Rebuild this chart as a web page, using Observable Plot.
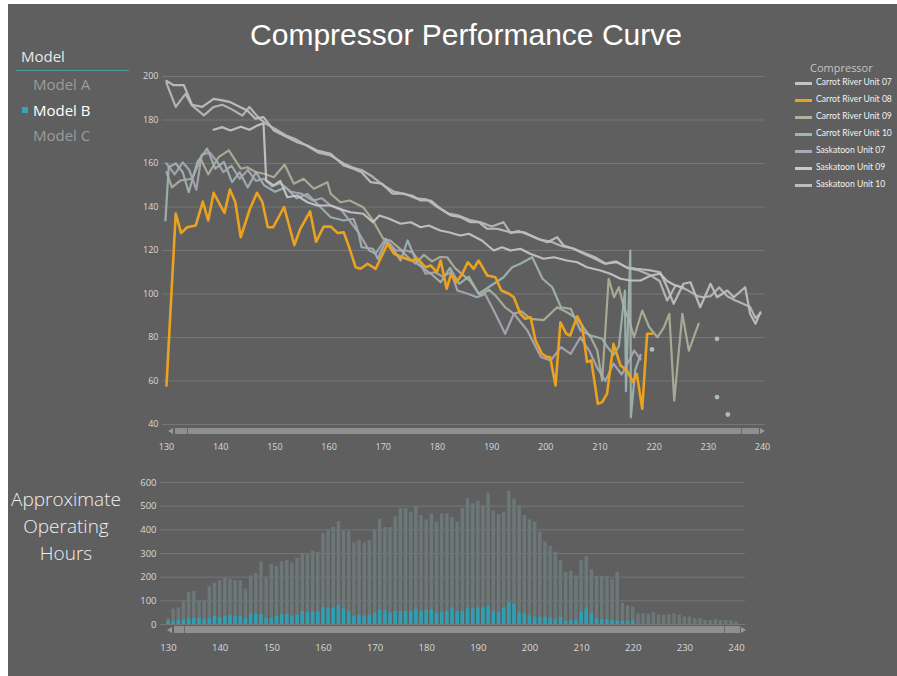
<!DOCTYPE html>
<html><head><meta charset="utf-8">
<script src="https://cdn.jsdelivr.net/npm/d3@7"></script>
<script src="https://cdn.jsdelivr.net/npm/@observablehq/plot@0.6"></script>
<style>
body{margin:0;background:#fff;font-family:"Open Sans","Segoe UI",sans-serif}
#root{position:relative;width:897px;height:676px;overflow:hidden;background:#fff}
#panel{position:absolute;left:8px;top:4px;width:889px;height:672px;background:#5f5f5f}
.abs{position:absolute;white-space:nowrap}
.tri-l{position:absolute;width:0;height:0;border-top:3px solid transparent;border-bottom:3px solid transparent;border-right:5px solid #9a9a9a}
.tri-r{position:absolute;width:0;height:0;border-top:3px solid transparent;border-bottom:3px solid transparent;border-left:5px solid #9a9a9a}
</style></head><body>
<div id="root">
<div id="panel"></div>
<div class="abs" style="left:166px;top:17px;width:600px;text-align:center;font-family:'Liberation Sans',Arial,sans-serif;font-size:30px;line-height:36px;color:#fff">Compressor Performance Curve</div>

<div class="abs" style="left:21px;top:46px;font-size:15px;line-height:20px;color:#e8e8e8">Model</div>
<div class="abs" style="left:16px;top:70px;width:113px;height:1px;background:#4e97a0"></div>
<div class="abs" style="left:33px;top:74px;font-size:15px;line-height:20px;color:#9b9b9b">Model A</div>
<div class="abs" style="left:22px;top:107px;width:6px;height:6px;background:#35a4ba"></div>
<div class="abs" style="left:33px;top:100px;font-size:15px;line-height:20px;color:#ffffff">Model B</div>
<div class="abs" style="left:33px;top:125px;font-size:15px;line-height:20px;color:#9b9b9b">Model C</div>

<div class="abs" style="left:0px;top:486px;width:132px;text-align:center;font-size:19px;line-height:27px;font-weight:300;color:#f0f0f0">Approximate<br>Operating<br>Hours</div>

<div id="legend"></div>
<div id="top" class="abs" style="left:130px;top:60px"></div>
<div id="bottom" class="abs" style="left:130px;top:470px"></div>

<!-- scrollbars -->
<div class="tri-l" style="left:168px;top:428px"></div>
<div class="abs" style="left:175px;top:428px;width:584px;height:6px;background:#8f8f8f"></div>
<div class="abs" style="left:187px;top:428px;width:1px;height:6px;background:#6a6a6a"></div>
<div class="abs" style="left:741px;top:428px;width:1px;height:6px;background:#6a6a6a"></div>
<div class="tri-r" style="left:760px;top:428px"></div>

<div class="tri-l" style="left:167px;top:627px"></div>
<div class="abs" style="left:174px;top:626px;width:566px;height:7px;background:#8f8f8f"></div>
<div class="abs" style="left:184px;top:626px;width:1px;height:7px;background:#6a6a6a"></div>
<div class="abs" style="left:724px;top:626px;width:1px;height:7px;background:#6a6a6a"></div>
<div class="tri-r" style="left:741px;top:627px"></div>
</div>
<script>
// ---------- top chart data: [x, y] pairs, null = gap ----------
const cr07 = [[130,198],[131.3,196],[133.2,196],[134.7,187],[136.6,186],[138.7,189.7],[140.3,189],[141.8,188.2],[143,186.7],[144.9,184.4],[146.4,180.6],[147.9,181.3],[149.8,175.2],[152.3,172.1],[154.1,169.8],[156,168.3],[157.8,166],[160.3,164.5],[162.7,159.1],[164.5,157.6],[166,156],[167.7,151.4],[169.8,150.7],[171.7,146.1],[173.5,146.1],[175.3,145.3],[176.9,143],[178.8,143],[180.6,139.2],[182.5,136.1],[184.3,135.3],[186.1,133],[187.6,133],[189.2,130],[191,130],[193.5,128.4],[196,128.4],[198.5,125.4],[200.3,123.8],[202.1,126.1],[203.3,122.3],[205.1,120.8],[207,118.5],[209.1,116.2],[210.9,113.9],[213.1,114.6],[214.9,112.3],[216.7,111.6],[219,111],[221.1,110],[222.4,103.1],[223.6,95.5],[225.4,104.7],[226.7,105.4],[228.5,93.9],[230.4,104.7],[231.6,98.5],[233.5,101.6],[234.7,98.5],[236.8,103.1],[237.7,90.9],[238.7,86.3],[239.6,91.6]];
const cr08 = [[130,58],[131.7,137],[132.7,128],[133.8,130.7],[135.4,131.5],[136.7,142.5],[137.7,133.8],[138.7,146.5],[140.7,137.3],[141.7,148],[142.7,142.2],[143.7,126.1],[145.4,139.2],[146.7,146.5],[147.7,142.2],[148.7,130.7],[149.7,130.7],[151.7,140],[153.6,122.5],[154.7,130],[156.5,138],[157.6,124],[159,131],[160.3,131],[161.6,128],[162.7,128.4],[163.6,122.3],[164.9,112.3],[165.8,111.6],[167.1,113.9],[168.6,111.6],[170.8,123.1],[172,118.5],[173.5,116.9],[175.1,115.4],[176.4,116.2],[177.8,112.3],[178.8,113.1],[179.9,110.1],[180.6,115.4],[181.7,102.4],[182.5,109],[183.5,105.4],[184.6,109.3],[185.6,114.6],[186.7,111.6],[187.6,115.4],[189.2,108.5],[190.7,107.7],[191.8,101.6],[193.2,100.1],[194.1,98.5],[195.3,90.9],[196.2,88.6],[197.2,89.3],[198.1,78.6],[199.3,72.5],[200.2,71],[200.8,71],[201.8,57.9],[202.7,87],[203.8,81.7],[204.5,80.9],[205.8,89.7],[206.7,85.5],[207.6,68.7],[208.4,69.4],[209.6,49.5],[210.4,50.3],[211.3,54.1],[212.5,77.1],[213.8,67.1],[215,64.8],[216.1,59.5],[216.8,63.3],[217.8,47.2],[218.7,81.7],[219.6,81.7]];
const cr09 = [[130,156],[131,149],[132.6,152.2],[134.7,153],[136.3,162.2],[137.7,155],[139.6,162.9],[141.5,166],[143.7,157.6],[144.9,158.3],[146.5,156],[148,155.3],[149.8,153.7],[151.8,159.5],[153.5,150.7],[155.3,153],[157.2,148.4],[159.7,151.4],[160.3,146.1],[162.1,142.2],[163.8,143],[166.3,139.9],[168.1,133.8],[170,125.4],[171.3,124.6],[173,121],[174.5,117],[176,114],[177.5,118],[179,115],[180.5,117],[181.8,116.9],[183.2,112],[184.6,109],[186,106],[187.9,99.3],[189.5,102],[190.7,99.3],[192.5,93.9],[194.1,90.9],[195.5,92],[197.2,88.6],[199.6,88],[202.1,93.9],[203.9,91.6],[205.8,88.6],[208.3,80.1],[209.5,74],[210.4,60.2],[211.6,107],[212.6,98.5],[213.5,103.1],[214.4,93.9],[215.4,87.8],[216.3,80.1],[217.8,92.4],[219.1,84.7],[220.6,80.1],[221.8,84.7],[222.8,90.9],[223.7,51],[225.2,90.9],[226.4,74],[228.2,86.3],null,[231.6,79.4]];
const cr10 = [[129.8,133.8],[130.4,158.3],[131.7,160],[133,156],[134.1,146.8],[135.7,160.7],[137.5,166.8],[139,157.6],[140.6,160.7],[142.1,151.4],[143.5,156],[145,149],[146.5,156],[148,150],[150,147],[152,149],[154,144],[156,146],[158,141],[160.3,135.3],[162.7,133.8],[164.5,134.6],[165.4,128.4],[166,121.5],[168.1,120.8],[169,116.2],[170.4,124],[172,120],[173.2,115.4],[174.5,124.6],[176.3,113.9],[178.8,109.3],[180.6,105.4],[182.3,112],[184,104.7],[185.8,108],[187.6,100.1],[190.4,104.7],[192.2,107.7],[193.8,112.3],[195.3,113.9],[197.5,116.9],[199.4,107],[201.2,103.1],[202.8,93.9],[204.6,93.2],[206.4,83.2],[208.3,80.9],[210.4,79.4],[211.4,75.6],[212.5,72],[213.5,76],[214.6,101.6],[214.8,55.3],[215.6,120],[215.7,43.3],[216.5,65],[217.5,72],null,[231.6,52.6]];
const sk07 = [[130,160],[131.5,155],[133,160.5],[134.2,157],[135.5,148],[136.5,164],[138,165],[139.3,161],[140.5,156],[142,159],[143.5,153],[145,157],[146.5,152],[148,153],[149.5,149.5],[151,151],[153,147],[155,146],[157,143],[158.7,144],[160.3,140.7],[162.1,139.2],[164,133],[165.5,128],[167.4,120],[168.6,118.5],[170.4,125.4],[172.3,120],[174.2,120],[175.5,119],[176.9,113.9],[177.8,109.3],[179.5,110],[181,108],[182.5,110],[183.7,101.6],[185.6,100.1],[187.3,98.5],[188.8,100],[190.4,92.4],[192.5,81.7],[194.1,90.9],[196.6,83.2],[199.1,71],[200.9,69.4],[202.8,75.6],[204.6,72.5],[206.4,80.1],[208,74],[209.5,66],[211,60],[212.5,68],[214,63],[215.5,70],[216.3,74],[217.5,70],null,[219.6,74.5],null,[233.6,44.6]];
const sk09 = [[138.7,175.5],[140.3,176.7],[141.8,175.2],[143.7,176.9],[145.3,175.5],[146.7,177.4],[147.9,178.5],[148.4,152.2],[149.8,149.9],[151,152],[152.3,144.5],[154.1,145.3],[156,142.2],[157.8,140.7],[160.3,140.7],[162,139],[164,137.6],[166.3,136.9],[168.1,133],[169.3,136.1],[171.1,134.6],[173.2,132.3],[175.1,133],[176.9,130.7],[178.4,131.5],[180.5,129.2],[182.1,128.4],[184.2,126.9],[185.8,127.7],[188.2,124.6],[190.4,120],[191.9,121.5],[193.5,120],[195.3,120.8],[197.1,118.5],[199.6,116.2],[201.5,116.9],[203.9,115.4],[205.8,114.6],[207.6,112.3],[210.1,110.8],[211.9,109.3],[213.8,107],[215.6,106.2],[217.5,106.2],[219.4,108.5],[221.1,109.3],[222.4,106],[223.8,104],[225.4,103]];
const sk10 = [[130,197],[131.7,186],[133.5,192],[134.7,186.7],[136.9,182.1],[138.7,186],[140.3,187],[142,185],[144,182],[145.3,186],[147,181],[148.5,178],[150,176],[152,173],[154,171],[156,168],[158,165],[160.3,163.7],[162.7,160],[164.5,158],[166,157],[168,154],[170,150],[172,147],[174,146],[176,144],[178,143.5],[180,140],[182,137],[184,136],[186,134],[188,133],[190,131],[192.2,133],[193.5,128],[195,129],[197,127],[199,125],[201,124],[203,122],[205,121],[207,119],[209,117],[211,114],[213,115],[215,112],[217,111],[219,109],[221,106],[222.4,97],[224,104],[226,102],[228,99],[229.1,98.5],[230.4,99],[232,103],[233.5,99],[235,97],[236,96],[237.7,94],[238.7,89],[239.6,91]];

const seriesNames = ["Carrot River Unit 07","Carrot River Unit 08","Carrot River Unit 09","Carrot River Unit 10","Saskatoon Unit 07","Saskatoon Unit 09","Saskatoon Unit 10"];
const seriesColors = ["#c3c3c3","#eaa21f","#adb29b","#a1b6b4","#a8aab7","#c9c9c9","#bcbcbc"];
const seriesData = [cr07, cr08, cr09, cr10, sk07, sk09, sk10];
const topXTicks = [130,140,150,160,170,180,190,200,210,220,230,240];
const topYTicks = [40,60,80,100,120,140,160,180,200];

// ---------- bottom chart data ----------
const hoursFirstTemp = 130;
const totalHours = [25,65,70,100,135,140,100,100,160,175, 185,195,190,185,185,150,205,215,265,200, 255,245,265,270,260,280,300,300,310,305, 385,400,410,435,395,395,345,355,345,355, 400,445,410,410,455,490,490,475,500,460, 442,467,432,467,467,453,432,489,531,510, 521,503,555,479,465,475,562,531,503,460, 442,432,390,348,330,306,270,221,225,206, 270,287,231,203,203,203,190,221,90,80, 73,45,45,45,51,40,40,40,45,40, 32,32,25,25,17,17,20,17,17,15,10];
const modelBHours = [12,12,18,20,25,25,25,20,25,35, 30,33,38,35,35,25,45,42,42,25, 25,35,42,42,35,40,55,52,55,52, 72,65,68,80,65,55,35,40,35,38, 48,60,58,48,55,55,55,55,65,55, 60,62,48,51,55,70,55,55,66,66, 70,70,77,55,51,70,94,85,48,45, 37,31,31,31,28,21,31,14,17,17, 51,66,45,23,21,21,17,14,14,14, 14,0,0,0,0,0,0,0,0,0, 0,0,0,0,0,0,0,0,0,0,0];
const bottomYTicks = [0,100,200,300,400,500,600];

// ---------- legend ----------
const legend = document.getElementById("legend");
let lh = `<div class="abs" style="left:810px;top:60px;font-size:11px;line-height:16px;color:#c4c4c4">Compressor</div>`;
seriesNames.forEach((n, i) => {
  const cy = 83 + i * 17;
  lh += `<div class="abs" style="left:795px;top:${cy - 1.5}px;width:17px;height:3px;background:${seriesColors[i]}"></div>`;
  lh += `<div class="abs" style="left:816px;top:${cy - 7}px;font-family:Lato,'Open Sans',sans-serif;font-size:8.6px;line-height:13px;color:#f2f2f2">${n}</div>`;
});
legend.innerHTML = lh;

// ---------- top chart ----------
const rows = [];
const dots = [];
seriesData.forEach((arr, s) => {
  arr.forEach((p, i) => {
    rows.push({s: seriesNames[s], x: p ? p[0] : NaN, y: p ? p[1] : NaN});
    if (p && !arr[i - 1] && !arr[i + 1]) dots.push({s: seriesNames[s], x: p[0], y: p[1]});
  });
});
const orangeName = seriesNames[1];
const fontFam = "'Open Sans','Segoe UI',sans-serif";

const topPlot = Plot.plot({
  width: 650, height: 400,
  marginLeft: 32, marginRight: 15, marginTop: 16, marginBottom: 36,
  style: {background: "transparent", color: "#d9d9d9", fontSize: "9px", fontFamily: fontFam, overflow: "visible"},
  x: {domain: [129.26, 240.55]},
  y: {domain: [40, 200]},
  color: {domain: seriesNames, range: seriesColors},
  marks: [
    Plot.gridY(topYTicks, {stroke: "#767676", strokeOpacity: 1}),
    Plot.axisY(topYTicks, {tickSize: 0, tickPadding: 4, label: null}),
    Plot.axisX(topXTicks, {tickSize: 0, tickPadding: 19, label: null}),
    Plot.line(rows.filter(r => r.s !== orangeName), {x: "x", y: "y", z: "s", stroke: "s", strokeWidth: 2.2, strokeOpacity: 0.9, strokeLinejoin: "round", strokeLinecap: "round"}),
    Plot.dot(dots, {x: "x", y: "y", fill: "#a9bdb9", r: 2.4, stroke: "none"}),
    Plot.line(rows.filter(r => r.s === orangeName), {x: "x", y: "y", stroke: "s", strokeWidth: 2.6, strokeLinejoin: "round"})
  ]
});
document.getElementById("top").appendChild(topPlot);

// ---------- bottom chart ----------
const hours = totalHours.map((t, i) => ({x: hoursFirstTemp + i, total: t, b: modelBHours[i]}));
const bottomXTicks = topXTicks;
const bottomPlot = Plot.plot({
  width: 630, height: 190,
  marginLeft: 30, marginRight: 15, marginTop: 12, marginBottom: 36,
  style: {background: "transparent", color: "#d9d9d9", fontSize: "9.5px", fontFamily: fontFam, overflow: "visible"},
  x: {domain: [128.45, 241.74]},
  y: {domain: [0, 600]},
  marks: [
    Plot.gridY(bottomYTicks, {stroke: "#767676", strokeOpacity: 1}),
    Plot.axisY(bottomYTicks, {tickSize: 0, tickPadding: 4, label: null}),
    Plot.axisX(bottomXTicks, {tickSize: 0, tickPadding: 20, label: null}),
    Plot.rect(hours, {x1: d => d.x - 0.34, x2: d => d.x + 0.34, y1: 0, y2: "total", fill: "#6c7778"}),
    Plot.rect(hours.filter(d => d.b > 0), {x1: d => d.x - 0.34, x2: d => d.x + 0.34, y1: 0, y2: "b", fill: "#2f9fb4"})
  ]
});
document.getElementById("bottom").appendChild(bottomPlot);
</script>
</body></html>
